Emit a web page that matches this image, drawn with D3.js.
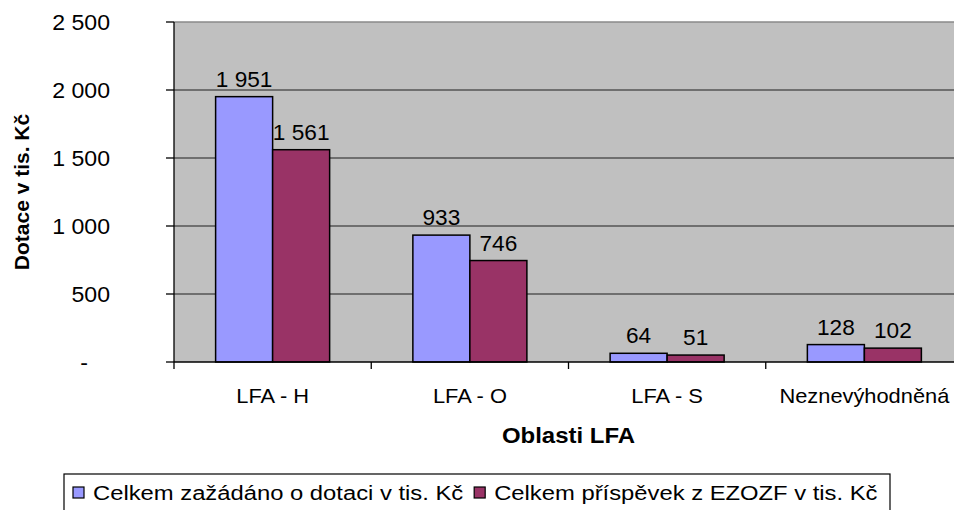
<!DOCTYPE html>
<html>
<head>
<meta charset="utf-8">
<script src="https://cdn.jsdelivr.net/npm/d3@7"></script>
<style>
  body { margin: 0; background: #fff; }
  svg { display: block; font-family: Arial, "Liberation Sans", sans-serif; }
</style>
</head>
<body>
<svg id="chart" width="954" height="510"></svg>
<script>
const oblasti = ["LFA - H", "LFA - O", "LFA - S", "Neznevýhodněná"];
const serie = ["Celkem zažádáno o dotaci v tis. Kč", "Celkem příspěvek z EZOZF v tis. Kč"];
const zazadano = [1951, 933, 64, 128];
const prispevek = [1561, 746, 51, 102];
const barvy = ["#9999FF", "#993366"];
const yTicks = [0, 500, 1000, 1500, 2000, 2500];

const fmt = v => v === 0 ? "-" : d3.format(",")(v).replace(/,/g, " ");

// the original picture is a bit stretched sideways, text too
const roztah = (sel, k, fx, fy) =>
  sel.attr("transform", (d, i) => `translate(${fx(d, i)},${fy(d, i)}) scale(${k},1)`);

const svg = d3.select("#chart");
const plot = { left: 174, top: 22, right: 963, bottom: 362 };

const y = d3.scaleLinear().domain([0, 2500]).range([plot.bottom, plot.top]);
const x0 = d3.scaleBand().domain(oblasti).range([plot.left, plot.right]);
const x1 = d3.scaleBand().domain([0, 1]).range([0, x0.bandwidth()]).paddingOuter(0.73);

// plot background
svg.append("rect")
  .attr("x", plot.left).attr("y", plot.top)
  .attr("width", plot.right - plot.left).attr("height", plot.bottom - plot.top)
  .attr("fill", "#C0C0C0");

// gridlines
svg.append("g").selectAll("line")
  .data(yTicks.filter(t => t > 0))
  .join("line")
  .attr("x1", plot.left).attr("x2", plot.right)
  .attr("y1", d => y(d)).attr("y2", d => y(d))
  .attr("stroke", d => d === 2500 ? "#8a8a8a" : "#555")
  .attr("stroke-width", 1.3);

// bars
const data = oblasti.map((o, i) => ({ o, vals: [zazadano[i], prispevek[i]] }));
const grp = svg.append("g").selectAll("g")
  .data(data)
  .join("g")
  .attr("transform", d => `translate(${x0(d.o)},0)`);

grp.selectAll("rect")
  .data(d => d.vals.map((v, s) => ({ v, s })))
  .join("rect")
  .attr("x", d => x1(d.s))
  .attr("y", d => y(d.v))
  .attr("width", x1.bandwidth())
  .attr("height", d => y(0) - y(d.v))
  .attr("fill", d => barvy[d.s])
  .attr("stroke", "#000")
  .attr("stroke-width", 1.5);

grp.selectAll("text")
  .data(d => d.vals.map((v, s) => ({ v, s })))
  .join("text")
  .call(roztah, 1.03, d => x1(d.s) + x1.bandwidth() / 2, d => y(d.v) - 10)
  .attr("text-anchor", "middle")
  .attr("font-size", 22)
  .attr("fill", "#000")
  .text(d => fmt(d.v));

// y axis
svg.append("line")
  .attr("x1", plot.left).attr("x2", plot.left)
  .attr("y1", plot.top).attr("y2", plot.bottom + 7)
  .attr("stroke", "#000").attr("stroke-width", 1.3);

const yAx = svg.append("g");
yAx.selectAll("line")
  .data(yTicks)
  .join("line")
  .attr("x1", plot.left - 8).attr("x2", plot.left)
  .attr("y1", d => y(d)).attr("y2", d => y(d))
  .attr("stroke", "#000").attr("stroke-width", 1.3);
yAx.selectAll("text")
  .data(yTicks)
  .join("text")
  .call(roztah, 1.05, d => d === 0 ? 88 : 110, d => y(d) + 8)
  .attr("text-anchor", "end")
  .attr("font-size", 22)
  .text(d => fmt(d));

// x axis
svg.append("line")
  .attr("x1", plot.left).attr("x2", plot.right)
  .attr("y1", plot.bottom).attr("y2", plot.bottom)
  .attr("stroke", "#000").attr("stroke-width", 1.3);

svg.append("g").selectAll("line")
  .data(oblasti.slice(1))
  .join("line")
  .attr("x1", d => x0(d)).attr("x2", d => x0(d))
  .attr("y1", plot.bottom).attr("y2", plot.bottom + 7)
  .attr("stroke", "#000").attr("stroke-width", 1.3);

svg.append("g").selectAll("text")
  .data(oblasti)
  .join("text")
  .call(roztah, 1.04, d => x0(d) + x0.bandwidth() / 2, () => 403)
  .attr("text-anchor", "middle")
  .attr("font-size", 21)
  .text(d => d);

// axis titles
svg.append("text")
  .attr("transform", `translate(${(plot.left + plot.right) / 2},443) scale(1.09,1)`)
  .attr("text-anchor", "middle")
  .attr("font-size", 22)
  .attr("font-weight", "bold")
  .text("Oblasti LFA");

svg.append("text")
  .attr("transform", `translate(29,${(plot.top + plot.bottom) / 2}) rotate(-90)`)
  .attr("text-anchor", "middle")
  .attr("font-size", 21)
  .attr("font-weight", "bold")
  .text("Dotace v tis. Kč");

// legend
const leg = svg.append("g");
leg.append("rect")
  .attr("x", 64).attr("y", 474)
  .attr("width", 826).attr("height", 60)
  .attr("fill", "#fff").attr("stroke", "#000").attr("stroke-width", 1.2);

const k = 1.19;
let lx = 73;
serie.forEach((s, i) => {
  leg.append("rect")
    .attr("x", lx).attr("y", 487)
    .attr("width", 11).attr("height", 11)
    .attr("fill", barvy[i]).attr("stroke", "#000").attr("stroke-width", 1.2);
  const t = leg.append("text")
    .attr("transform", `translate(${lx + 20},500) scale(${k},1)`)
    .attr("font-size", 20)
    .text(s);
  lx = lx + 20 + t.node().getComputedTextLength() * k + 11;
});
</script>
</body>
</html>
